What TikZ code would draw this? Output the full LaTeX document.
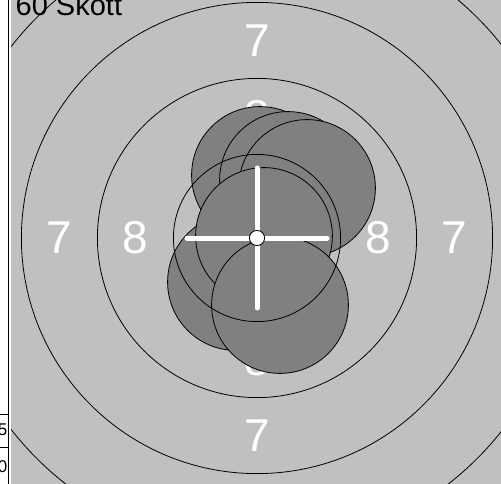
\documentclass[tikz,border=0pt]{standalone}
\usepackage{fontspec}
\setsansfont{Liberation Sans}
\usepackage{xcolor}
\definecolor{targetgray}{HTML}{C0C0C0}
\definecolor{shotgray}{HTML}{808080}

\begin{document}
\begin{tikzpicture}[x=1pt,y=-1pt,font=\sffamily,
  shot/.style={fill=shotgray,draw=black,line width=0.8pt},
  ring/.style={draw=black,line width=0.8pt},
  ringlabel/.style={text=white,inner sep=0pt,font=\sffamily\fontsize{46}{46}\selectfont},
  hair/.style={white,line width=5pt,line cap=round}]
\useasboundingbox (0,0) rectangle (501,484);
\fill[white] (0,0) rectangle (501,484);
\draw[black,line width=1pt] (8.5,0) -- (8.5,484);
% score table on the left
\draw[black,line width=1pt] (0,414) -- (8.5,414);
\draw[black,line width=1pt] (0,447) -- (8.5,447);
\node[anchor=base east,inner sep=0pt,font=\sffamily\fontsize{17}{17}\selectfont] (row5) at (7.5,435) {5};
\node[anchor=base east,inner sep=0pt,font=\sffamily\fontsize{17}{17}\selectfont] (row0) at (7.5,472) {0};
\coordinate (mpi) at (257,238);
\begin{scope}
\clip (11,0) rectangle (501,484);
\fill[targetgray] (11,0) rectangle (501,484);
% ring numbers
\node[ringlabel] (l7n) at (257,40.4) {7};
\node[ringlabel] (l7s) at (257,435.6) {7};
\node[ringlabel] (l7w) at (59.4,238) {7};
\node[ringlabel] (l7e) at (454.6,238) {7};
\node[ringlabel] (l8n) at (257,116.4) {8};
\node[ringlabel] (l8s) at (257,359.6) {8};
\node[ringlabel] (l8w) at (135.4,238) {8};
\node[ringlabel] (l8e) at (378.6,238) {8};
% shots
\draw[shot] (260,175) circle[radius=68.4pt];
\draw[shot] (288,180) circle[radius=68.4pt];
\draw[shot] (307,188) circle[radius=68.4pt];
\draw[shot] (236,282) circle[radius=68.4pt];
\draw[shot] (264,236) circle[radius=68.4pt];
\draw[shot] (280,305) circle[radius=68.4pt];
% rings
\foreach \r in {2.75,5.25,7.75,10.25}
  \draw[ring] (mpi) circle[radius=\r*30.4pt];
\end{scope}
% mean point of impact
\coordinate (hw) at ([xshift=-70pt]mpi);
\coordinate (he) at ([xshift=70pt]mpi);
\coordinate (hn) at ([yshift=70pt]mpi);
\coordinate (hs) at ([yshift=-70pt]mpi);
\draw[hair] (hw) -- (he);
\draw[hair] (hn) -- (hs);
\draw[fill=white,draw=black,line width=0.8pt] (mpi) circle[radius=7.6pt];
\node[anchor=base west,inner sep=0pt,font=\sffamily\fontsize{29}{29}\selectfont] (title) at (15.5,16) {60 Skott};
\end{tikzpicture}
\end{document}
